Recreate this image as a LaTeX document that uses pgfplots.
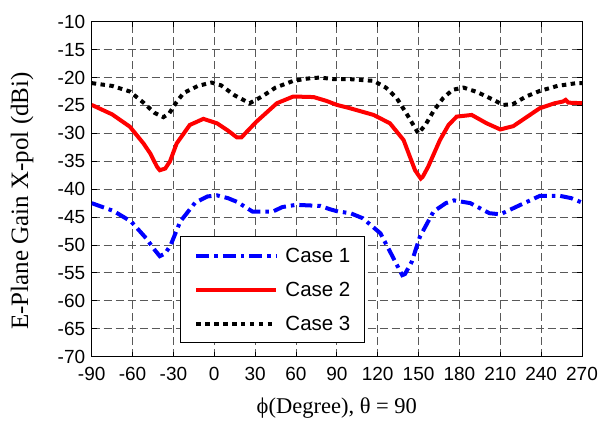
\documentclass[border=0pt]{standalone}
\usepackage{fontspec}
\setmainfont{Liberation Sans}
\newfontfamily\serif{Liberation Serif}
\usepackage{pgfplots}
\pgfplotsset{compat=1.18}
\begin{document}
\begin{tikzpicture}
\begin{axis}[
  scale only axis=true,
  width=490.3bp, height=335bp,
  xmin=-90, xmax=270, ymin=-70, ymax=-10,
  xtick={-90,-60,...,270},
  ytick={-70,-65,...,-10},
  /pgf/number format/assume math mode=true,
  tick label style={font=\fontsize{19bp}{22bp}\selectfont},
  yticklabel style={xshift=-3bp},
  xticklabel style={yshift=-7bp},
  grid=major,
  major grid style={black!65, dash pattern=on 8bp off 4bp, line width=0.9bp},
  axis line style={black, line width=1bp},
  tick style={black, line width=0.9bp},
  major tick length=5bp,
  tick align=inside,
  xlabel={\serif\fontsize{22.5bp}{26bp}\selectfont ϕ(Degree), θ = 90},
  ylabel={\serif\fontsize{25bp}{28bp}\selectfont E-Plane Gain X-pol (dBi)},
  xlabel style={at={(axis description cs:0.5,-0.169)}, anchor=base},
  ylabel style={at={(axis description cs:-0.142,0.465)}, anchor=center},
  legend style={at={(rel axis cs:0.1800,0.0406)}, anchor=south west,
    draw=black, line width=1bp, font=\fontsize{20.5bp}{24bp}\selectfont,
    inner xsep=14bp, inner ysep=12bp,
    nodes={inner sep=0pt, text height=14bp, text depth=0pt},
    row sep=20bp,
    /tikz/every odd column/.append style={column sep=7bp}},
  legend cell align=left,
  legend image code/.code={\draw[#1] (0bp,0bp) -- (80bp,0bp);},
  clip=true,
]
\addplot[blue, line width=4bp, dash pattern=on 13bp off 5bp on 3.5bp off 5bp] coordinates {
(-90,-42.5) (-74,-43.9) (-61,-45.8) (-50,-48.8) (-44,-50.8) (-40,-52.0) (-36,-51.5) (-32,-50.0) (-25,-45.8) (-14,-42.4) (-5,-41.3) (2,-41.1) (10,-41.6) (17,-42.3) (28,-44.0) (43,-44.0) (50,-43.2) (60,-42.8) (78,-43.0) (85,-43.6) (91,-44.0) (100,-44.3) (109,-45.2) (122,-47.9) (131,-52.1) (138,-55.4) (140,-55.2) (145,-53.0) (151,-48.5) (161,-44.0) (170,-42.5) (176,-42.0) (188,-42.5) (202,-44.3) (210,-44.5) (224,-42.9) (239,-41.2) (254,-41.2) (262,-41.6) (270,-42.4)
};
\addlegendentry{Case 1}
\addplot[red, line width=4bp] coordinates {
(-90,-24.9) (-75,-26.6) (-62,-28.8) (-52,-31.8) (-47,-33.6) (-42,-36.0) (-40,-36.6) (-36,-36.3) (-32.5,-35.0) (-27.6,-31.8) (-18,-28.5) (-8,-27.4) (2,-28.2) (10,-29.5) (16.5,-30.7) (20,-30.7) (31,-27.9) (46,-24.6) (58,-23.4) (73,-23.5) (82.5,-24.2) (90,-24.9) (99.6,-25.5) (117,-26.7) (129,-28.2) (139,-31.2) (147.4,-36.6) (151.6,-38.1) (153,-37.8) (157,-36.0) (165.7,-31.2) (172,-28.5) (178,-27.0) (189,-26.7) (200,-28.2) (210,-29.3) (219.6,-28.7) (239,-25.5) (250,-24.6) (256,-24.3) (258,-24.0) (260,-24.5) (270,-24.6)
};
\addlegendentry{Case 2}
\addplot[black, line width=4bp, dash pattern=on 4.5bp off 4.4bp] coordinates {
(-90,-21.0) (-75,-21.5) (-62,-22.5) (-52,-24.5) (-44,-26.3) (-37.4,-27.1) (-33,-26.4) (-28,-24.5) (-22.7,-22.8) (-12,-21.5) (-2,-20.9) (5,-21.4) (15,-23.2) (26,-24.6) (35,-23.4) (45,-21.8) (58,-20.6) (68,-20.2) (77.6,-20.0) (88,-20.3) (100,-20.3) (117,-20.6) (126,-21.8) (134,-23.7) (142,-26.8) (149.8,-30.0) (155,-28.5) (161,-26.0) (168,-23.7) (175,-22.2) (183,-21.8) (193,-22.6) (205,-24.0) (212,-24.9) (219,-24.8) (229,-23.4) (239,-22.4) (252,-21.5) (266,-21.0) (270,-21.0)
};
\addlegendentry{Case 3}
\end{axis}
\path (current axis.south west) ++(-91.7bp,-62.3bp) coordinate (bl);
\path (current axis.north east) ++(21bp,21.7bp) coordinate (tr);
\useasboundingbox (bl) rectangle (tr);
\end{tikzpicture}
\end{document}
